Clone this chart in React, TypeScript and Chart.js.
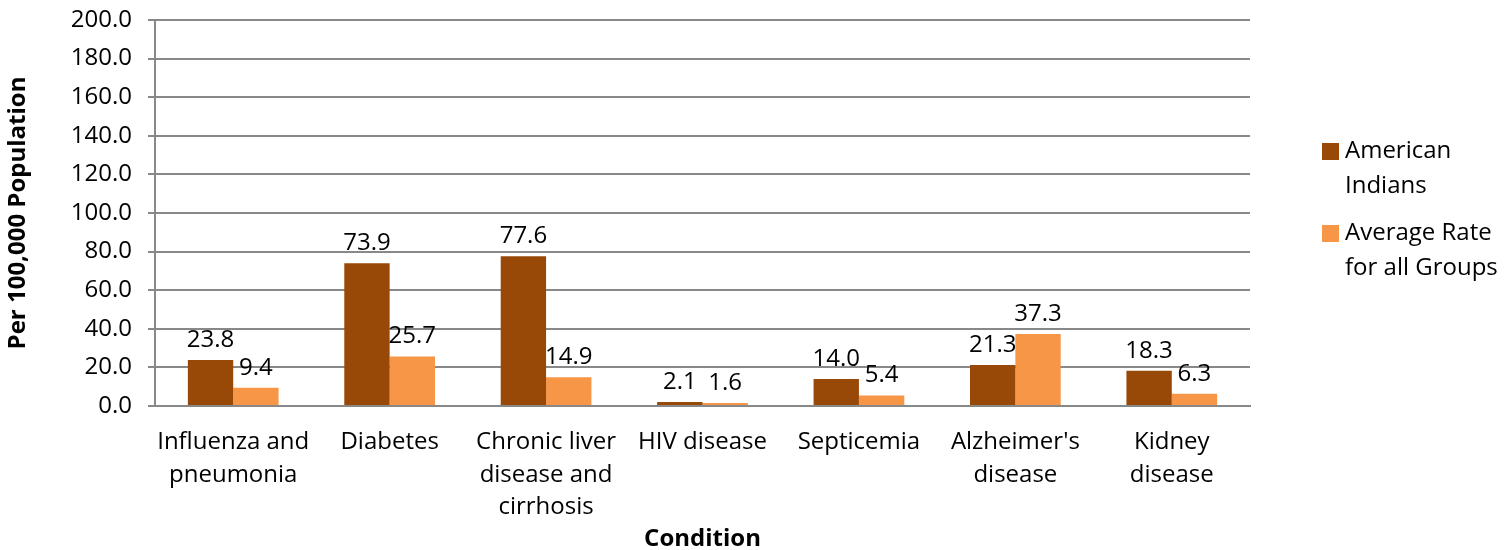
import React, { useEffect, useRef } from "react";
import { Chart, registerables } from "chart.js";

Chart.register(...registerables);

const categories: (string | string[])[] = [
  ["Influenza and", "pneumonia"],
  "Diabetes",
  ["Chronic liver", "disease and", "cirrhosis"],
  "HIV disease",
  "Septicemia",
  ["Alzheimer's", "disease"],
  ["Kidney", "disease"],
];
const americanIndians = [23.8, 73.9, 77.6, 2.1, 14.0, 21.3, 18.3];
const averageRate = [9.4, 25.7, 14.9, 1.6, 5.4, 37.3, 6.3];
const seriesNames = [["American", "Indians"], ["Average Rate", "for all Groups"]];
const colors = ["#984807", "#F79646"];

const FONT = "'Open Sans', 'Liberation Sans', sans-serif";

export default function App() {
  const ref = useRef<HTMLCanvasElement>(null);
  useEffect(() => {
    document.body.style.margin = "0";
    const labelPlugin = {
      id: "labelsAndLegend",
      afterDraw(chart: any) {
        const ctx = chart.ctx;
        ctx.save();
        ctx.fillStyle = "#000";
        ctx.font = `24px ${FONT}`;
        ctx.textAlign = "center";
        ctx.textBaseline = "middle";
        chart.data.datasets.forEach((ds: any, di: number) => {
          const meta = chart.getDatasetMeta(di);
          meta.data.forEach((bar: any, i: number) => {
            ctx.fillText(ds.data[i].toFixed(1), bar.x, bar.y - 20);
          });
        });
        // legend
        const area = chart.chartArea;
        const lx = area.right + 72;
        const tops = [151, 233];
        ctx.textAlign = "left";
        ctx.font = `24px ${FONT}`;
        seriesNames.forEach((lines, si) => {
          ctx.fillStyle = colors[si];
          ctx.fillRect(lx, tops[si] - 8, 17, 17);
          ctx.fillStyle = "#000";
          lines.forEach((t, li) => {
            ctx.fillText(t, lx + 23, tops[si] + li * 35);
          });
        });
        ctx.restore();
      },
    };
    const chart = new Chart(ref.current!, {
      type: "bar",
      data: {
        labels: categories,
        datasets: [
          { label: "American Indians", data: americanIndians, backgroundColor: colors[0] },
          { label: "Average Rate for all Groups", data: averageRate, backgroundColor: colors[1] },
        ],
      },
      options: {
        animation: false,
        responsive: true,
        maintainAspectRatio: false,
        layout: { padding: { top: 20, right: 260, left: 4, bottom: 0 } },
        datasets: { bar: { categoryPercentage: 0.58, barPercentage: 1.0 } },
        plugins: { legend: { display: false }, tooltip: { enabled: false } },
        scales: {
          x: {
            grid: { display: false },
            border: { color: "#888", width: 2 },
            ticks: {
              color: "#000",
              font: { family: FONT, size: 24, lineHeight: 1.36 },
              padding: 12,
              maxRotation: 0,
              autoSkip: false,
            },
            title: {
              display: true,
              text: "Condition",
              color: "#000",
              font: { family: FONT, size: 24, weight: "bold" },
              padding: { top: 0, bottom: -4 },
            },
            afterFit(scale: any) {
              scale.height = 144;
              scale.paddingLeft = 0;
              scale.paddingRight = 0;
            },
          },
          y: {
            min: 0,
            max: 200,
            ticks: {
              stepSize: 20,
              color: "#000",
              font: { family: FONT, size: 24 },
              padding: 16,
              callback: (v: any) => Number(v).toFixed(1),
            },
            grid: { color: "#888", lineWidth: 2, tickLength: 7, drawTicks: true },
            border: { color: "#888", width: 2 },
            title: {
              display: true,
              text: "Per 100,000 Population",
              color: "#000",
              font: { family: FONT, size: 24, weight: "bold" },
              padding: { top: 0, bottom: 4 },
            },
            afterFit(scale: any) {
              scale.width = 151;
              scale.paddingTop = 0;
              scale.paddingBottom = 0;
            },
          },
        },
      },
      plugins: [labelPlugin],
    });
    return () => chart.destroy();
  }, []);
  return (
    <div style={{ position: "relative", width: 1510, height: 550 }}>
      <canvas ref={ref} />
    </div>
  );
}
